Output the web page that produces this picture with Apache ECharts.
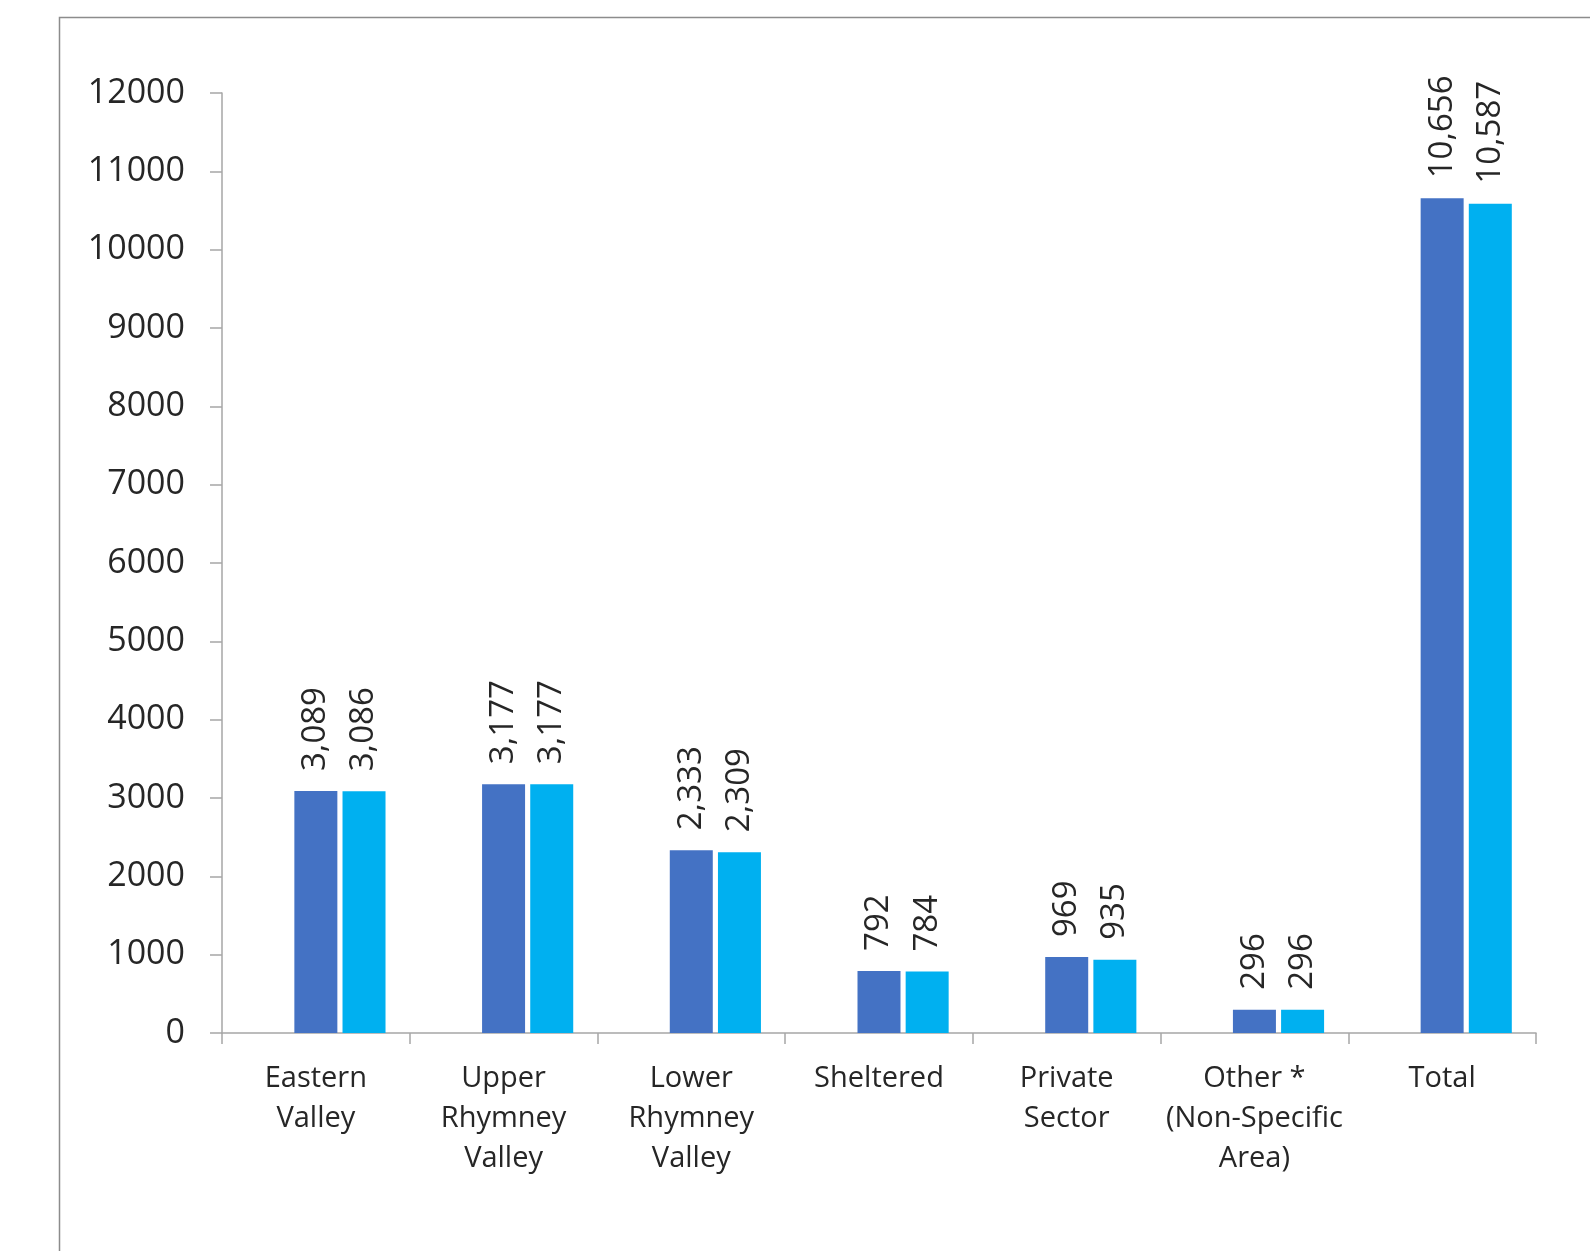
<!DOCTYPE html>
<html>
<head>
<meta charset="utf-8">
<style>
  html, body { margin: 0; padding: 0; background: #fff; }
  #chart { width: 1590px; height: 1251px; }
</style>
<script src="https://cdn.jsdelivr.net/npm/echarts@6/dist/echarts.min.js"></script>
</head>
<body>
<div id="chart"></div>
<script>
// Categories along the x axis (line breaks as shown under each group)
const categories = [
  'Eastern\nValley',
  'Upper\nRhymney\nValley',
  'Lower\nRhymney\nValley',
  'Sheltered',
  'Private\nSector',
  'Other *\n(Non-Specific\nArea)',
  'Total'
];

// Two reported counts per category
const seriesA = [3089, 3177, 2333, 792, 969, 296, 10656];
const seriesB = [3086, 3177, 2309, 784, 935, 296, 10587];

// An empty leading series keeps the first bar slot reserved in every group
const emptySlot = [null, null, null, null, null, null, null];

// Value axis ticks
const yMin = 0;
const yMax = 12000;
const yStep = 1000;

const FONT = '"Open Sans", Lato, sans-serif';
const TEXT = '#262626';
const LINE = '#a6a6a6';

const chart = echarts.init(document.getElementById('chart'), null, { renderer: 'canvas' });

const fmt = v => Number(v).toLocaleString('en-GB');

const barLabel = {
  show: true,
  position: 'top',
  rotate: 90,
  align: 'left',
  verticalAlign: 'middle',
  distance: 20,
  fontFamily: FONT,
  fontSize: 33,
  color: TEXT,
  formatter: p => fmt(p.value)
};

chart.setOption({
  animation: false,
  backgroundColor: '#fff',
  graphic: [{
    type: 'rect',
    left: 57,
    top: 15,
    shape: { width: 1600, height: 1235 },
    style: { fill: 'none', stroke: '#8c8c8c', lineWidth: 1.5 },
    silent: true
  }],
  grid: { left: 222, right: 54, top: 93, bottom: 218, containLabel: false },
  xAxis: {
    type: 'category',
    data: categories,
    axisLine: { show: true, lineStyle: { color: LINE, width: 1.5 } },
    axisTick: { show: true, length: 11, lineStyle: { color: LINE, width: 1.5 } },
    axisLabel: {
      interval: 0,
      margin: 26,
      fontFamily: FONT,
      fontSize: 29,
      lineHeight: 40,
      color: TEXT,
      align: 'center'
    },
    splitLine: { show: false }
  },
  yAxis: {
    type: 'value',
    min: yMin,
    max: yMax,
    interval: yStep,
    axisLine: { show: true, lineStyle: { color: LINE, width: 1.5 } },
    axisTick: { show: true, length: 12, lineStyle: { color: LINE, width: 1.5 } },
    axisLabel: {
      margin: 37,
      fontFamily: FONT,
      fontSize: 34,
      color: TEXT,
      formatter: v => String(v)
    },
    splitLine: { show: false }
  },
  series: [
    {
      type: 'bar',
      data: emptySlot,
      barWidth: 43,
      barGap: '12%',
      silent: true
    },
    {
      type: 'bar',
      data: seriesA,
      barWidth: 43,
      barGap: '12%',
      itemStyle: { color: '#4472C4' },
      label: barLabel
    },
    {
      type: 'bar',
      data: seriesB,
      barWidth: 43,
      barGap: '12%',
      itemStyle: { color: '#00B0F0' },
      label: barLabel
    }
  ]
});
</script>
</body>
</html>
